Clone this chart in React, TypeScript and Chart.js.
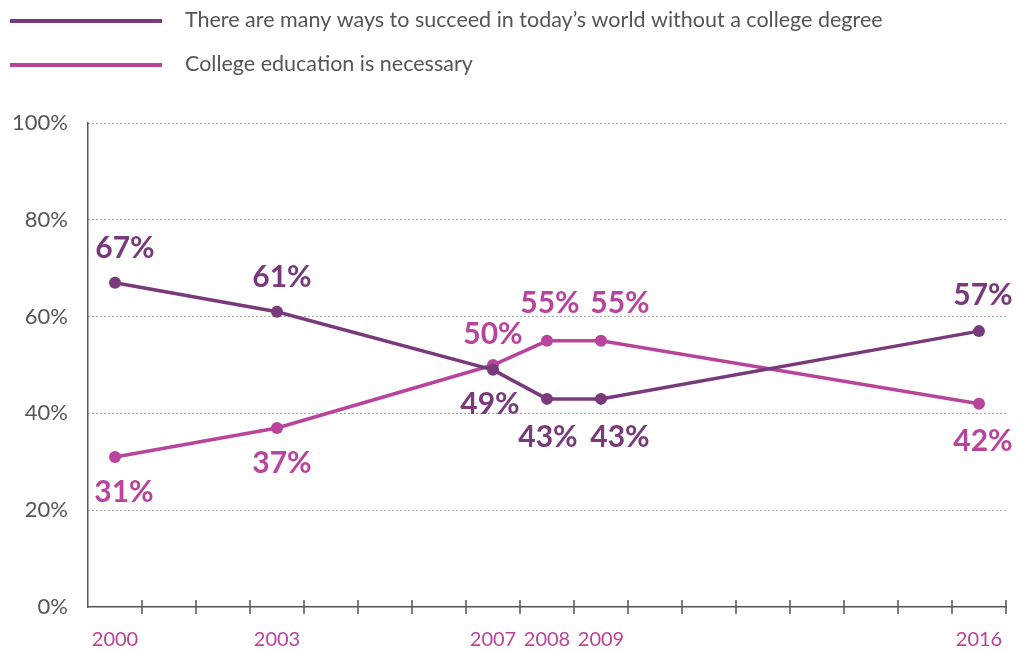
import React, { useEffect, useRef } from "react";
import { Chart, registerables } from "chart.js";

Chart.register(...registerables);

const years = [2000, 2003, 2007, 2008, 2009, 2016];
const seriesNames = [
  "There are many ways to succeed in today\u2019s world without a college degree",
  "College education is necessary",
];
const withoutDegree = [67, 61, 49, 43, 43, 57];
const collegeNecessary = [31, 37, 50, 55, 55, 42];
const yTicks = [0, 20, 40, 60, 80, 100];

const colors = ["#783a7b", "#b8449c"];
// label placement (pixel offsets from point), kept apart from data
const labelOffsets = [
  [[10, -34], [5, -34], [-3, 34], [1, 38], [19, 38], [4, -36]],
  [[9, 35], [5, 35], [0, -31], [3, -37], [19, -37], [4, 38]],
];

const FONT = "Lato, 'DejaVu Sans', sans-serif";

export default function App() {
  const ref = useRef<HTMLCanvasElement | null>(null);
  useEffect(() => {
    document.body.style.margin = "0";
    const canvas = ref.current!;
    const seriesValues = [withoutDegree, collegeNecessary];

    const overlay = {
      id: "overlay",
      afterDatasetsDraw(chart: any) {
        const ctx = chart.ctx;
        const xs = chart.scales.x;
        const ys = chart.scales.y;
        // crossing tick marks at year boundaries
        ctx.save();
        ctx.strokeStyle = "#555";
        ctx.lineWidth = 1.5;
        const y0 = ys.getPixelForValue(0);
        for (let v = Math.ceil(xs.min) + 0.5; v <= xs.max + 0.001; v += 1) {
          const px = xs.getPixelForValue(v);
          ctx.beginPath();
          ctx.moveTo(px, y0 - 7);
          ctx.lineTo(px, y0 + 7);
          ctx.stroke();
        }
        ctx.restore();
        // data labels
        chart.data.datasets.forEach((ds: any, di: number) => {
          const meta = chart.getDatasetMeta(di);
          ctx.save();
          ctx.fillStyle = colors[di];
          ctx.font = `bold 30px ${FONT}`;
          ctx.textAlign = "center";
          ctx.textBaseline = "middle";
          meta.data.forEach((pt: any, i: number) => {
            const [dx, dy] = labelOffsets[di][i];
            ctx.fillText(`${seriesValues[di][i]}%`, pt.x + dx, pt.y + dy);
          });
          ctx.restore();
        });
        // legend
        ctx.save();
        seriesNames.forEach((name, i) => {
          const ly = 21 + i * 44;
          ctx.strokeStyle = colors[i];
          ctx.lineWidth = 4;
          ctx.beginPath();
          ctx.moveTo(10, ly);
          ctx.lineTo(162, ly);
          ctx.stroke();
          ctx.fillStyle = "#555";
          ctx.font = `21.5px ${FONT}`;
          ctx.textAlign = "left";
          ctx.textBaseline = "middle";
          ctx.fillText(name, 185, ly - 1);
        });
        ctx.restore();
      },
    };

    const chart = new Chart(canvas, {
      type: "line",
      data: {
        datasets: seriesValues.map((vals, di) => ({
          label: seriesNames[di],
          data: years.map((yr, i) => ({ x: yr, y: vals[i] })),
          borderColor: colors[di],
          backgroundColor: colors[di],
          borderWidth: 3.5,
          pointRadius: 6,
          pointBackgroundColor: colors[di],
          pointBorderWidth: 0,
          tension: 0,
        })),
      },
      options: {
        animation: false,
        responsive: false,
        maintainAspectRatio: false,
        layout: { padding: { top: 123, right: 12, left: 0, bottom: 0 } },
        plugins: { legend: { display: false }, tooltip: { enabled: false } },
        scales: {
          x: {
            type: "linear",
            min: 1999.5,
            max: 2016.5,
            afterBuildTicks(scale: any) {
              scale.ticks = years.map((v) => ({ value: v }));
            },
            afterFit(scale: any) {
              scale.height = 45;
            },
            grid: { display: false },
            border: { display: true, color: "#555", width: 1.5 },
            ticks: {
              color: "#b8449c",
              font: { family: FONT, size: 20 },
              padding: 13,
              maxRotation: 0,
              autoSkip: false,
              callback: (v: any) => String(v),
            },
          },
          y: {
            min: 0,
            max: 100,
            afterBuildTicks(scale: any) {
              scale.ticks = yTicks.map((v) => ({ value: v }));
            },
            afterFit(scale: any) {
              scale.width = 88;
            },
            grid: {
              color: (c: any) => (c.tick && c.tick.value === 0 ? "rgba(0,0,0,0)" : "#555"),
              lineWidth: 1,
              drawTicks: false,
            },
            border: { display: true, color: "#555", width: 1.5, dash: [1, 3] },
            ticks: {
              color: "#555",
              font: { family: FONT, size: 22 },
              padding: 20,
              callback: (v: any) => `${v}%`,
            },
          },
        },
      },
      plugins: [overlay],
    } as any);
    return () => chart.destroy();
  }, []);
  return (
    <div style={{ width: 1018, height: 652 }}>
      <canvas ref={ref} width={1018} height={652} style={{ width: 1018, height: 652 }} />
    </div>
  );
}
